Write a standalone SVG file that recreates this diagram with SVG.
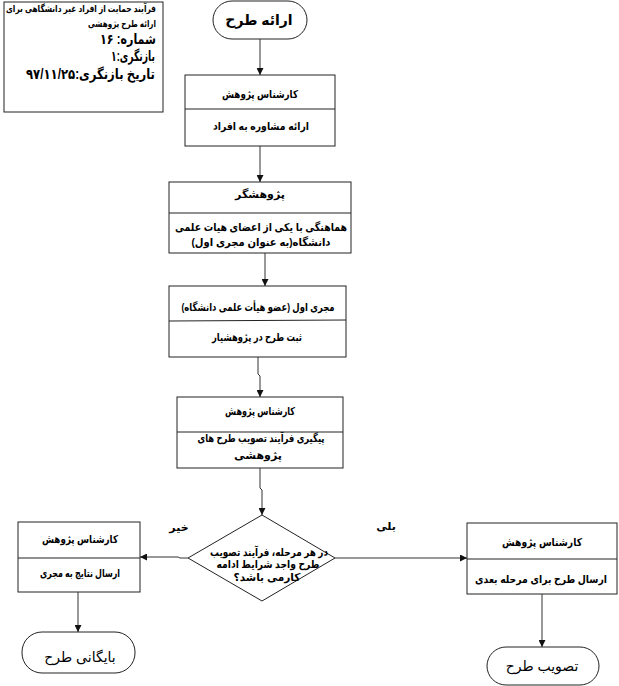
<svg xmlns="http://www.w3.org/2000/svg" width="619" height="686" viewBox="0 0 619 686">
<defs>
<marker id="ah" viewBox="0 0 10 10" refX="10" refY="5" markerWidth="7" markerHeight="7" markerUnits="userSpaceOnUse" orient="auto">
<path d="M0,0 L10,5 L0,10 z" fill="#111"/>
</marker>
<style>
.box{fill:#fff;stroke:#222;stroke-width:1}
.div{stroke:#222;stroke-width:1}
.t{font-family:"Liberation Sans","DejaVu Sans",sans-serif;font-weight:bold;font-size:11px;fill:#000;text-anchor:middle}
.term{font-family:"Liberation Sans","DejaVu Sans",sans-serif;font-size:14px;fill:#000;text-anchor:middle}
.info{font-family:"Liberation Sans","DejaVu Sans",sans-serif;font-weight:bold;fill:#000;text-anchor:end}
.c{fill:none;stroke:#333;stroke-width:1}
</style>
</defs>
<rect width="619" height="686" fill="#fff"/>

<g id="info">
<rect x="4" y="2" width="159" height="110" class="box"/>
<text class="info" x="156" y="12" font-size="9.5" textLength="150" lengthAdjust="spacingAndGlyphs">فرآیند حمایت از افراد غیر دانشگاهی برای</text>
<text class="info" x="156" y="27" font-size="9.5" textLength="68" lengthAdjust="spacingAndGlyphs">ارائه طرح پژوهشی</text>
<text class="info" x="156" y="44" font-size="14" textLength="56" lengthAdjust="spacingAndGlyphs">شماره: ۱۶</text>
<text class="info" x="155" y="61" font-size="14" textLength="44" lengthAdjust="spacingAndGlyphs">بازنگری:۱</text>
<text class="info" x="155" y="79" font-size="14" textLength="129" lengthAdjust="spacingAndGlyphs">تاریخ بازنگری:۹۷/۱۱/۲۵</text>
</g>

<g id="start">
<rect x="213" y="1" width="94" height="38" rx="19" ry="19" class="box"/>
<text class="term" x="259" y="25" font-weight="bold">ارائه طرح</text>
</g>

<g id="box1">
<rect x="185" y="75" width="150" height="71" class="box"/>
<line x1="185" y1="109" x2="335" y2="109" class="div"/>
<text class="t" x="260" y="98" textLength="76" lengthAdjust="spacingAndGlyphs">کارشناس پژوهش</text>
<text class="t" x="261" y="130" textLength="96" lengthAdjust="spacingAndGlyphs">ارائه مشاوره به افراد</text>
</g>

<g id="box2">
<rect x="169" y="182" width="182" height="71" class="box"/>
<line x1="169" y1="213" x2="351" y2="213" class="div"/>
<text class="t" x="260" y="198">پژوهشگر</text>
<text class="t" x="261" y="231" textLength="172" lengthAdjust="spacingAndGlyphs">هماهنگی با یکی از اعضای هیات علمی</text>
<text class="t" x="261" y="246" textLength="139" lengthAdjust="spacingAndGlyphs">دانشگاه(به عنوان مجری اول)</text>
</g>

<g id="box3">
<rect x="169" y="286" width="177" height="71" class="box"/>
<line x1="169" y1="321" x2="346" y2="320" class="div"/>
<text class="t" x="258" y="311" textLength="153" lengthAdjust="spacingAndGlyphs">مجری اول (عضو هیأت علمی دانشگاه)</text>
<text class="t" x="257" y="341" textLength="90" lengthAdjust="spacingAndGlyphs">ثبت طرح در پژوهشیار</text>
</g>

<g id="box4">
<rect x="177" y="397" width="166" height="71" class="box"/>
<line x1="177" y1="432" x2="343" y2="432" class="div"/>
<text class="t" x="260" y="415" textLength="70" lengthAdjust="spacingAndGlyphs">کارشناس پژوهش</text>
<text class="t" x="261" y="442" textLength="127" lengthAdjust="spacingAndGlyphs">پیگیری فرآیند تصویب طرح های</text>
<text class="t" x="258" y="459">پژوهشی</text>
</g>

<g id="decision">
<polygon points="262,515 335,558 262,601 188,558" class="box"/>
<text class="t" x="269" y="556" textLength="118" lengthAdjust="spacingAndGlyphs">در هر مرحله، فرآیند تصویب</text>
<text class="t" x="268" y="568" textLength="103" lengthAdjust="spacingAndGlyphs">طرح واجد شرایط ادامه</text>
<text class="t" x="267" y="581" textLength="67" lengthAdjust="spacingAndGlyphs">کارمی باشد؟</text>
</g>

<g id="boxLeft">
<rect x="18" y="522" width="122" height="70" class="box"/>
<line x1="18" y1="558" x2="140" y2="558" class="div"/>
<text class="t" x="80" y="543" textLength="76" lengthAdjust="spacingAndGlyphs">کارشناس پژوهش</text>
<text class="t" x="80" y="577" textLength="80" lengthAdjust="spacingAndGlyphs">ارسال نتایج به مجری</text>
</g>

<g id="endLeft">
<rect x="22" y="632" width="113" height="41" rx="20" ry="20" class="box"/>
<text class="term" x="80" y="662">بایگانی طرح</text>
</g>

<g id="boxRight">
<rect x="467" y="523" width="150" height="71" class="box"/>
<line x1="467" y1="559" x2="617" y2="559" class="div"/>
<text class="t" x="542" y="546" textLength="80" lengthAdjust="spacingAndGlyphs">کارشناس پژوهش</text>
<text class="t" x="541" y="583" font-size="10" textLength="132" lengthAdjust="spacingAndGlyphs">ارسال طرح برای  مرحله بعدی</text>
</g>

<g id="endRight">
<rect x="487" y="647" width="112" height="38" rx="19" ry="19" class="box"/>
<text class="term" x="542" y="671">تصویب طرح</text>
</g>

<g id="connectors">
<path class="c" d="M260,39 V75" marker-end="url(#ah)"/>
<path class="c" d="M260,146 V182" marker-end="url(#ah)"/>
<path class="c" d="M265,253 V286" marker-end="url(#ah)"/>
<path class="c" d="M258,357 V374 L260,376 V397" marker-end="url(#ah)"/>
<path class="c" d="M260,468 V488 L262,490 V515" marker-end="url(#ah)"/>
<path class="c" d="M188,558 L180,558 L178,557 L140,557" marker-end="url(#ah)"/>
<path class="c" d="M335,558 H467" marker-end="url(#ah)"/>
<path class="c" d="M78,592 V632" marker-end="url(#ah)"/>
<path class="c" d="M542,594 V647" marker-end="url(#ah)"/>
<text class="t" x="179" y="531">خیر</text>
<text class="t" x="386" y="530">بلی</text>
</g>
</svg>
